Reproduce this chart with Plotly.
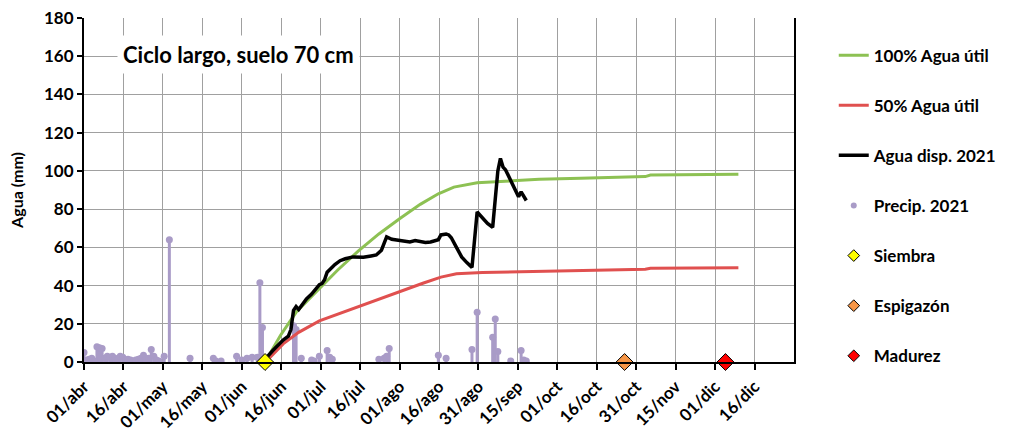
import datetime as dt
import plotly.graph_objects as go

# --- Axis ticks (every 15.25 days from 1 April) ---
tick_labels = ["01/abr", "16/abr", "01/may", "16/may", "01/jun", "16/jun",
               "01/jul", "16/jul", "01/ago", "16/ago", "31/ago", "15/sep",
               "01/oct", "16/oct", "31/oct", "15/nov", "01/dic", "16/dic"]
tick_step_days = 15.25
axis_start = dt.datetime(2021, 4, 1)
axis_end = axis_start + dt.timedelta(days=274.5)

# --- 100% available water (mm) ---
au100_dates = ["2021-06-10", "2021-06-16", "2021-06-22", "2021-06-30", "2021-07-08",
               "2021-07-16", "2021-07-24", "2021-08-01", "2021-08-09", "2021-08-16",
               "2021-08-22", "2021-08-31", "2021-09-08", "2021-09-24", "2021-10-10",
               "2021-10-30", "2021-11-04", "2021-11-06", "2021-11-22", "2021-12-10"]
au100_vals = [0, 14, 26, 37, 48, 58, 67, 75, 82.5, 88,
              91.5, 93.8, 94.5, 95.6, 96.2, 96.9, 97, 97.8, 98, 98.3]

# --- 50% available water (mm) ---
au50_dates = ["2021-06-10", "2021-06-12", "2021-06-17", "2021-06-23", "2021-07-01",
              "2021-07-12", "2021-07-23", "2021-08-01", "2021-08-10", "2021-08-17",
              "2021-08-23", "2021-09-02", "2021-09-28", "2021-10-18", "2021-11-04",
              "2021-11-06", "2021-12-10"]
au50_vals = [0, 2.5, 9.5, 15.5, 21.5, 27, 32.3, 36.8, 41.2, 44.4,
             46.2, 46.8, 47.5, 48, 48.5, 49, 49.3]

# --- Available water 2021 (mm) ---
disp_dates = ["2021-06-10", "2021-06-11", "2021-06-13", "2021-06-15", "2021-06-17",
              "2021-06-19", "2021-06-20", "2021-06-21", "2021-06-22", "2021-06-23",
              "2021-06-24", "2021-06-26", "2021-06-28", "2021-06-30", "2021-07-01",
              "2021-07-02", "2021-07-03", "2021-07-04", "2021-07-05", "2021-07-07",
              "2021-07-09", "2021-07-11", "2021-07-14", "2021-07-16", "2021-07-18",
              "2021-07-21", "2021-07-23", "2021-07-25", "2021-07-26", "2021-07-27",
              "2021-07-29", "2021-08-01", "2021-08-03", "2021-08-05", "2021-08-07",
              "2021-08-09", "2021-08-11", "2021-08-13", "2021-08-15", "2021-08-16",
              "2021-08-17", "2021-08-19", "2021-08-20", "2021-08-21", "2021-08-23",
              "2021-08-25", "2021-08-27", "2021-08-29", "2021-08-31", "2021-09-01",
              "2021-09-02", "2021-09-04", "2021-09-06", "2021-09-07", "2021-09-08",
              "2021-09-09", "2021-09-10", "2021-09-11", "2021-09-12", "2021-09-13",
              "2021-09-14", "2021-09-15", "2021-09-16", "2021-09-17", "2021-09-18",
              "2021-09-19"]
disp_vals = [1, 3, 6, 9, 11.5,
             13.5, 17, 27, 29, 27.5,
             29.5, 33, 35.5, 38.5, 40.5,
             41, 43, 47, 48.5, 51,
             53, 54, 55, 55, 54.8,
             55.5, 56, 58.5, 62, 65.5,
             64.2, 63.5, 63.3, 62.8, 63.5,
             62.8, 62.5, 62.8, 63.5, 64,
             66.5, 67, 66.5, 65, 60,
             55, 52, 49.5, 78.5, 77,
             75, 72.5, 70.5, 85, 100,
             106.5, 102, 100.5, 97.5, 95,
             92, 89.5, 86.5, 89, 87,
             84.5]

# --- Daily precipitation 2021 (mm) ---
pp_dates = ["2021-04-01", "2021-04-02", "2021-04-03", "2021-04-04", "2021-04-05",
            "2021-04-06", "2021-04-07", "2021-04-08", "2021-04-09", "2021-04-10",
            "2021-04-11", "2021-04-12", "2021-04-13", "2021-04-14", "2021-04-15",
            "2021-04-16", "2021-04-17", "2021-04-18", "2021-04-19", "2021-04-20",
            "2021-04-21", "2021-04-22", "2021-04-23", "2021-04-24", "2021-04-25",
            "2021-04-26", "2021-04-27", "2021-04-28", "2021-04-29", "2021-04-30",
            "2021-05-02", "2021-05-04", "2021-05-12", "2021-05-21", "2021-05-22",
            "2021-05-24", "2021-05-30", "2021-06-01", "2021-06-03", "2021-06-05",
            "2021-06-07", "2021-06-08", "2021-06-09", "2021-06-21", "2021-06-22",
            "2021-06-24", "2021-06-28", "2021-06-29", "2021-07-01", "2021-07-04",
            "2021-07-05", "2021-07-06", "2021-07-24", "2021-07-26", "2021-07-27",
            "2021-07-28", "2021-08-16", "2021-08-19", "2021-08-29", "2021-08-31",
            "2021-09-06", "2021-09-07", "2021-09-08", "2021-09-13", "2021-09-17",
            "2021-09-18", "2021-09-19"]
pp_vals = [5, 1, 1.5, 2, 0.5,
           8, 7.5, 7, 2, 3,
           2.5, 3, 2, 1, 3,
           2.5, 1, 1.5, 1, 0.5,
           1, 1.5, 2, 3.5, 1.5,
           2, 6.5, 3, 1, 0.5,
           3, 64, 2, 2, 0.5,
           0.5, 3, 1, 2, 2.5,
           2.5, 41.5, 18, 19, 17,
           2, 1, 0.5, 3, 6,
           2.5, 1.5, 1.5, 2, 3,
           7, 3.5, 2, 6.5, 26,
           13, 22.5, 5.5, 0.5, 6,
           1, 0.5]

# --- Crop stages ---
stage_names = ["Siembra", "Espigazón", "Madurez"]
stage_dates = ["2021-06-10", "2021-10-27", "2021-12-05"]
stage_vals = [0, 0, 0]
stage_colors = ["#FFFF00", "#F79646", "#FF0000"]

GREEN = "#8DC153"
RED = "#E0504F"
PURPLE = "#A99BC7"
FONT = "Lato"

fig = go.Figure()

# precipitation stems
stem_x, stem_y = [], []
for d, v in zip(pp_dates, pp_vals):
    stem_x += [d, d, None]
    stem_y += [0, v, None]
fig.add_trace(go.Scatter(x=stem_x, y=stem_y, mode="lines",
                         line=dict(color=PURPLE, width=3),
                         hoverinfo="skip", showlegend=False))
fig.add_trace(go.Scatter(x=pp_dates, y=pp_vals, mode="markers",
                         marker=dict(color=PURPLE, size=7),
                         showlegend=False))

fig.add_trace(go.Scatter(x=au100_dates, y=au100_vals, mode="lines",
                         name="100% Agua útil", line=dict(color=GREEN, width=3),
                         legendgroup="a", legendrank=1))
fig.add_trace(go.Scatter(x=au50_dates, y=au50_vals, mode="lines",
                         name="50% Agua útil", line=dict(color=RED, width=3),
                         legendgroup="b", legendrank=2))
fig.add_trace(go.Scatter(x=disp_dates, y=disp_vals, mode="lines",
                         name="Agua disp. 2021", line=dict(color="black", width=3.5),
                         legendgroup="c", legendrank=3))

# legend entry for precipitation (smaller symbol)
fig.add_trace(go.Scatter(x=[None], y=[None], mode="markers", name="Precip. 2021",
                         marker=dict(color=PURPLE, size=6),
                         legendgroup="d", legendrank=4))

for i, (n, d, v, c) in enumerate(zip(stage_names, stage_dates, stage_vals, stage_colors)):
    fig.add_trace(go.Scatter(x=[d], y=[v], mode="markers", name=n,
                             marker=dict(symbol="diamond", size=13, color=c,
                                         line=dict(color="black", width=1)),
                             cliponaxis=False, showlegend=False))
    fig.add_trace(go.Scatter(x=[None], y=[None], mode="markers", name=n,
                             marker=dict(symbol="diamond", size=9, color=c,
                                         line=dict(color="black", width=1)),
                             legendgroup="e%d" % i, legendrank=5 + i))

tick_vals = [axis_start + dt.timedelta(days=tick_step_days * k) for k in range(len(tick_labels))]

axis_font = dict(family=FONT, size=17, color="black", weight="bold")

fig.update_layout(
    width=1011, height=433,
    margin=dict(l=84, r=217, t=18, b=71, autoexpand=False),
    paper_bgcolor="white", plot_bgcolor="white",
    font=dict(family=FONT, color="black"),
    showlegend=True,
    legend=dict(x=1.056, y=0.943, xanchor="left", yanchor="top",
                font=dict(family=FONT, size=17, color="black", weight="bold"),
                traceorder="grouped", tracegroupgap=25,
                bgcolor="rgba(0,0,0,0)"),
    xaxis=dict(type="date", range=[axis_start, axis_end],
               tickmode="array", tickvals=tick_vals, ticktext=tick_labels,
               tickangle=-45, tickfont=axis_font,
               showgrid=True, gridcolor="#A0A0A0", gridwidth=1,
               showline=True, linecolor="black", linewidth=2,
               ticks="outside", ticklen=6, tickcolor="black", tickwidth=2,
               zeroline=False),
    yaxis=dict(range=[0, 180], tickmode="linear", tick0=0, dtick=20,
               tickfont=axis_font,
               title=dict(text="Agua (mm)", font=dict(family=FONT, size=16,
                                                       color="black", weight="bold"),
                          standoff=16),
               showgrid=True, gridcolor="#A0A0A0", gridwidth=1,
               showline=True, linecolor="black", linewidth=2, mirror=True,
               ticks="outside", ticklen=5, tickcolor="black", tickwidth=2,
               zeroline=False),
    annotations=[dict(text="Ciclo largo, suelo 70 cm", xref="paper", yref="paper",
                      x=0.218, y=0.895, xanchor="center", yanchor="middle",
                      showarrow=False, bgcolor="white", borderpad=5,
                      font=dict(family=FONT, size=22, color="black", weight="bold"))],
)

fig.write_html("out.html")
